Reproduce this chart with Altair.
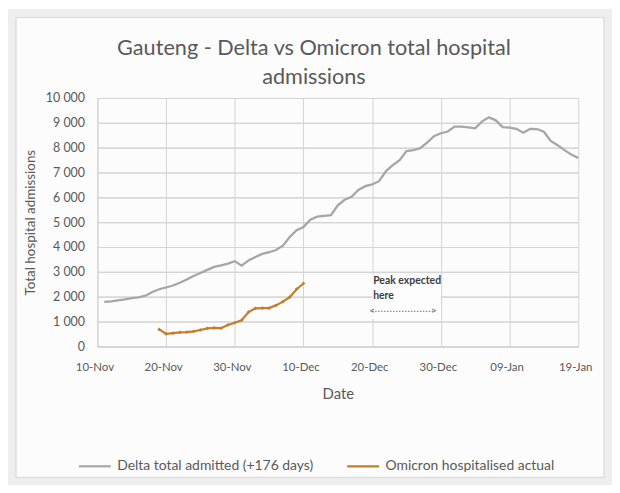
import altair as alt
import pandas as pd

# ---- data ----
delta_label = "Delta total admitted (+176 days)"
omicron_label = "Omicron hospitalised actual"

delta_dates = [d.strftime("%Y-%m-%d") for d in pd.date_range("2021-11-11", "2022-01-19", freq="D")]
delta_values = [
    1790, 1810, 1850, 1890, 1940, 1970, 2040, 2190, 2300, 2370,
    2450, 2560, 2690, 2830, 2950, 3080, 3200, 3260, 3330, 3430,
    3250, 3460, 3600, 3720, 3790, 3880, 4050, 4400, 4680, 4800,
    5100, 5220, 5250, 5280, 5680, 5900, 6020, 6300, 6450, 6520,
    6650, 7050, 7300, 7500, 7860, 7900, 7980, 8200, 8460, 8580,
    8650, 8850, 8850, 8820, 8780, 9060, 9220, 9100, 8830, 8810,
    8760, 8600, 8760, 8750, 8640, 8270, 8100, 7900, 7720, 7580,
]

omicron_dates = [d.strftime("%Y-%m-%d") for d in pd.date_range("2021-11-19", "2021-12-10", freq="D")]
omicron_values = [
    680, 500, 530, 560, 570, 600, 660, 720, 740, 730, 860,
    950, 1050, 1380, 1530, 1540, 1540, 1650, 1800, 1980, 2300, 2530,
]

x_tick_dates = ["2021-11-10", "2021-11-20", "2021-11-30", "2021-12-10",
                "2021-12-20", "2021-12-30", "2022-01-09", "2022-01-19"]
y_ticks = [0, 1000, 2000, 3000, 4000, 5000, 6000, 7000, 8000, 9000, 10000]

title_line1 = "Gauteng - Delta vs Omicron total hospital"
title_line2 = "admissions"

annot_texts = ["Peak expected", "here"]
annot_dates = ["2021-12-20", "2021-12-20"]
annot_values = [2610, 2010]
arrow_dates = ["2021-12-20", "2021-12-29"]
arrow_value = 1410
box_dates = ["2021-12-20", "2021-12-30"]
box_values = [1100, 2880]

# ---- tables ----
delta_df = pd.DataFrame({"date": delta_dates, "value": delta_values, "series": delta_label})
omicron_df = pd.DataFrame({"date": omicron_dates, "value": omicron_values, "series": omicron_label})
grid_df = pd.DataFrame({"value": y_ticks})
annot_df = pd.DataFrame({"date": annot_dates, "value": annot_values, "text": annot_texts})
arrow_df = pd.DataFrame({"date": [arrow_dates[0]], "date2": [arrow_dates[1]], "value": [arrow_value]})
arrow_ends = pd.DataFrame({"date": arrow_dates, "value": [arrow_value, arrow_value], "text": ["<", ">"]})
box_df = pd.DataFrame({"date": [box_dates[0]], "date2": [box_dates[1]],
                       "value": [box_values[0]], "value2": [box_values[1]]})

GREY_TXT = "#595959"
GRID = "#d4d4d4"
FONT = "Lato"

def utc(s):
    y, m, d = [int(p) for p in s.split("-")]
    return alt.DateTime(year=y, month=m, date=d, utc=True)

x_scale = alt.Scale(type="utc", domain=[utc(x_tick_dates[0]), utc(x_tick_dates[-1])])
y_scale = alt.Scale(domain=[0, 10000], nice=False)

x_axis = alt.Axis(
    values=[utc(s) for s in x_tick_dates], labelExpr="utcFormat(datum.value, '%d-%b')",
    title="Date", labelFontSize=11.5, titleFontSize=15, labelColor=GREY_TXT, titleColor=GREY_TXT,
    titleFontWeight="normal", labelPadding=15, titlePadding=14, ticks=False, labelOffset=-3,
    domainColor="#bfbfbf", grid=True, gridColor=GRID, gridWidth=1,
    labelFont=FONT, titleFont=FONT, labelFlush=False, labelOverlap=False,
)
y_axis = alt.Axis(
    values=y_ticks, labelExpr="replace(format(datum.value, ','), ',', ' ')",
    title="Total hospital admissions", labelFontSize=12.5, titleFontSize=13.5,
    labelColor=GREY_TXT, titleColor=GREY_TXT, titleFontWeight="normal",
    labelPadding=13, titlePadding=8, ticks=False, domainColor=GRID,
    grid=True, gridColor=GRID, gridWidth=1, labelFont=FONT, titleFont=FONT,
)

color_scale = alt.Scale(domain=[delta_label, omicron_label], range=["#a6a6a6", "#c47d2c"])
legend = alt.Legend(
    title=None, orient="none", direction="horizontal", legendX=-20, legendY=353,
    symbolType="stroke", symbolSize=1024, symbolStrokeWidth=2.2, labelFontSize=14,
    labelColor=GREY_TXT, labelFont=FONT, columnPadding=29, symbolOffset=0, labelOffset=5,
    labelLimit=400,
)

base_x = alt.X("date:T", scale=x_scale, axis=x_axis)
base_y = alt.Y("value:Q", scale=y_scale, axis=y_axis)

# frame and title as fixed decorations (mark properties, no encodings)
frame_df = pd.DataFrame({"k": [0]})
outer_band = alt.Chart(frame_df).mark_rect(
    fillOpacity=0, stroke="#eeeeee", strokeWidth=9, x=-86, x2=514, y=-85, y2=386)
inner_frame = alt.Chart(frame_df).mark_rect(
    fillOpacity=0, stroke="#dcdcdc", strokeWidth=1.2, x=-82, x2=510, y=-81, y2=382)
title1 = alt.Chart(frame_df).mark_text(
    text=title_line1, fontSize=21.8, font=FONT, color=GREY_TXT, align="center", baseline="middle",
    x=218, y=-50)
title2 = alt.Chart(frame_df).mark_text(
    text=title_line2, fontSize=21.8, font=FONT, color=GREY_TXT, align="center", baseline="middle",
    x=218, y=-21)

# horizontal gridlines, one per y tick
hgrid = alt.Chart(grid_df).mark_rule(color=GRID, strokeWidth=1.2, yOffset=0.5).encode(y=base_y)

box = alt.Chart(box_df).mark_rect(color="#fdfdfd").encode(
    x=base_x, x2="date2:T", y=base_y, y2="value2:Q")

delta_line = alt.Chart(delta_df).mark_line(strokeWidth=2.3).encode(
    x=base_x, y=base_y,
    color=alt.Color("series:N", scale=color_scale, legend=legend),
)
omicron_line = alt.Chart(omicron_df).mark_line(
    strokeWidth=2.2, point=alt.OverlayMarkDef(filled=True, size=14, shape="diamond")
).encode(
    x=base_x, y=base_y,
    color=alt.Color("series:N", scale=color_scale, legend=legend),
)

annot = alt.Chart(annot_df).mark_text(
    align="left", baseline="middle", fontSize=10.5, fontWeight="bold", color="#404040", font=FONT, dx=1
).encode(x=base_x, y=base_y, text="text:N")
arrow = alt.Chart(arrow_df).mark_rule(color="#707070", strokeDash=[1.5, 1.5], strokeWidth=1).encode(
    x=base_x, x2="date2:T", y=base_y)
arrow_tips = alt.Chart(arrow_ends).mark_text(
    fontSize=10, color="#606060", baseline="middle", align="center", font=FONT
).encode(x=base_x, y=base_y, text="text:N")

chart = alt.layer(
    hgrid, box, delta_line, omicron_line, annot, arrow, arrow_tips,
    outer_band, inner_frame, title1, title2,
).properties(
    width=484, height=250,
    padding={"left": 90, "top": 89, "right": 34, "bottom": 138},
    autosize=alt.AutoSizeParams(type="none"),
    background="#fcfcfc",
).configure_view(stroke=None)

chart.save("out.html", embed_options={"renderer": "svg", "actions": False})
